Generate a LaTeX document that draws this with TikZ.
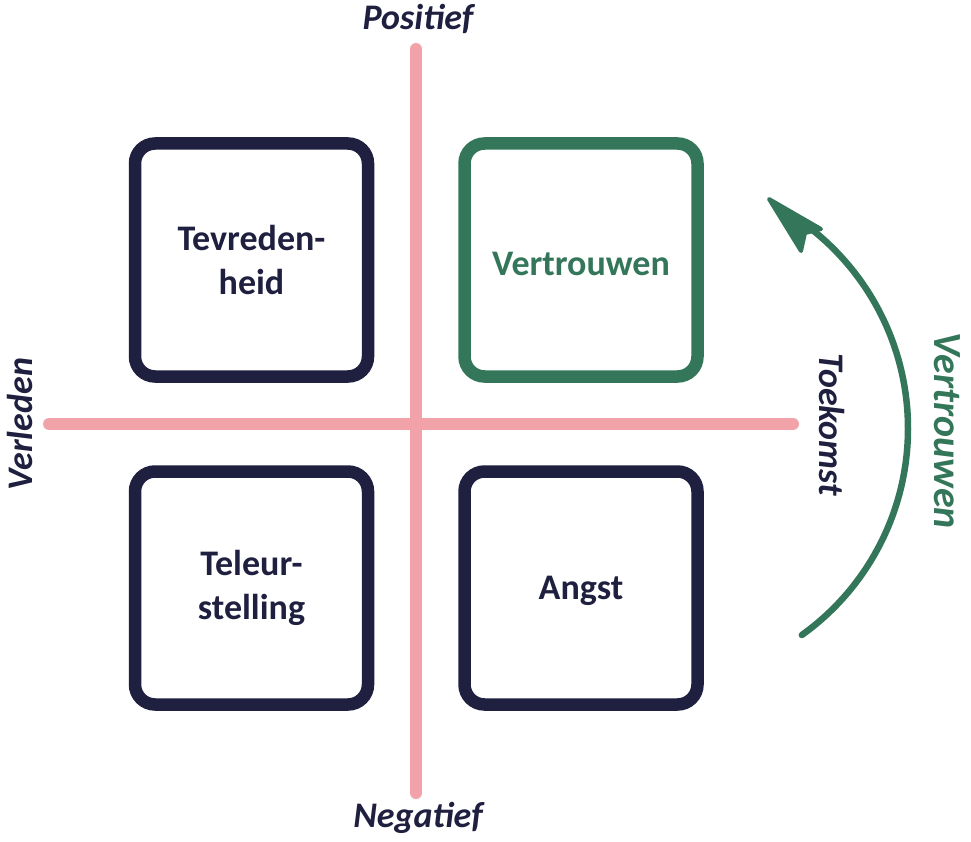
\documentclass[tikz,border=0pt]{standalone}
\usepackage{fontspec}
\setmainfont{Carlito}
\definecolor{navy}{HTML}{1F1F3F}
\definecolor{sage}{HTML}{33765A}
\definecolor{rose}{HTML}{F2A3AA}
\begin{document}
\begin{tikzpicture}[x=1pt,y=-1pt,
  lbl/.style={font=\fontsize{36}{44}\selectfont\bfseries\itshape, text=navy, inner sep=0pt},
  quad/.style={draw=navy, line width=12.5pt, rounded corners=20pt, minimum width=233pt, minimum height=233pt, text=navy, font=\fontsize{36}{44}\selectfont\bfseries, align=center, inner sep=0pt},
  axisline/.style={draw=rose, line width=12pt, line cap=round},
  curve/.style={draw=sage, line width=6.5pt, line cap=round}]
\useasboundingbox (0,0) rectangle (971,842);
% axes
\coordinate (ytop) at (416,49);
\coordinate (ybot) at (416,793);
\coordinate (xleft) at (49,424);
\coordinate (xright) at (793,424);
\draw[axisline] (ytop) -- (ybot);
\draw[axisline] (xleft) -- (xright);
% quadrants
\node[quad] (tevr) at (251.5,260) {Tevreden-\\heid};
\node[quad, draw=sage, text=sage] (vertr) at (581,260) {\raisebox{-16pt}[0pt][0pt]{Vertrouwen}};
\node[quad] (teleur) at (251.5,588) {Teleur-\\stelling};
\node[quad] (angst) at (581,588) {\raisebox{-11pt}[0pt][0pt]{Angst}};
% axis labels
\node[lbl, anchor=base] (pos) at (418,30) {Positief};
\node[lbl, anchor=base] (neg) at (418,827) {Negatief};
\node[lbl, anchor=base, rotate=90] (verl) at (32,424) {Verleden};
\node[lbl, anchor=base, rotate=-90] (toek) at (819,425) {Toekomst};
\node[lbl, anchor=base, rotate=-90, text=sage, font=\fontsize{40}{48}\selectfont\bfseries\itshape] (vertrlbl) at (934,431) {Vertrouwen};
% arc arrow
\coordinate (arcc) at (654,428.5);
\coordinate (arcstart) at ([shift={(54.4:254)}]arcc);
\draw[curve] (arcstart) arc[start angle=54.4, end angle=-58, radius=254];
\coordinate (tip) at (769,199);
\coordinate (barbA) at (821,229);
\coordinate (notch) at (805,233);
\coordinate (barbB) at (801,251);
\filldraw[sage, line width=4pt, line join=round] (tip) -- (barbA) -- (notch) -- (barbB) -- cycle;
\end{tikzpicture}
\end{document}
